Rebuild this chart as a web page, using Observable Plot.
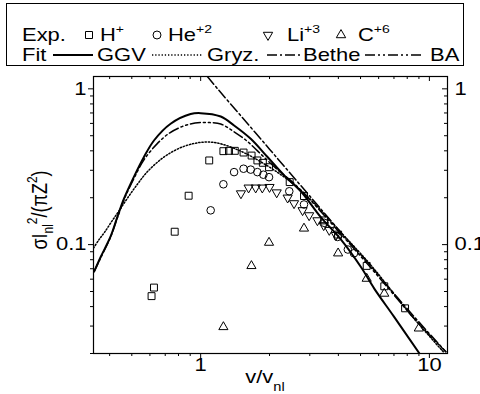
<!DOCTYPE html>
<html><head><meta charset="utf-8">
<script src="https://cdn.jsdelivr.net/npm/d3@7"></script>
<script src="https://cdn.jsdelivr.net/npm/@observablehq/plot@0.6"></script>
<style>
body{margin:0;background:#fff;width:480px;height:394px;overflow:hidden;font-family:"Liberation Sans",Arial,sans-serif;}
svg{display:block}
</style></head><body>
<svg id="legend" width="480" height="68"></svg>
<div id="chart"></div>
<script>
// ---- data ----
const ggvX = [0.343,0.365,0.403,0.432,0.462,0.51,0.565,0.625,0.739,0.904,1.0,1.224,1.40,1.655,1.96,2.32,2.74,3.35,4.10,5.02,5.75,7.0,9.05];
const ggvY = [0.0675,0.083,0.112,0.150,0.197,0.271,0.365,0.466,0.597,0.689,0.698,0.664,0.582,0.478,0.365,0.278,0.22,0.150,0.108,0.0718,0.052,0.0345,0.020];

const gryzX = [0.34,0.36,0.38,0.41,0.44,0.48,0.53,0.58,0.65,0.72,0.82,0.93,1.03,1.15,1.25,1.4,1.6,1.8,2.1,2.5,3.0,4.1,5.5,6.8,8.5,11.5];
const gryzY = [0.095,0.108,0.120,0.142,0.165,0.200,0.245,0.29,0.34,0.38,0.42,0.445,0.455,0.452,0.44,0.415,0.38,0.345,0.30,0.25,0.197,0.12,0.075,0.051,0.034,0.0205];

const betheX = [1.07,1.2,1.5,2.0,2.5,3.0,4.1,5.5,6.8,8.5,11.8];
const betheY = [1.2,0.98,0.67,0.41,0.28,0.205,0.12,0.074,0.051,0.035,0.0205];

const baX = [0.34,0.365,0.403,0.432,0.462,0.51,0.565,0.646,0.73,0.817,0.9,1.0,1.1,1.224,1.4,1.6,1.89,2.24,2.5,3.0,4.1,5.5,6.8,8.5,11.8];
const baY = [0.066,0.082,0.111,0.148,0.194,0.265,0.35,0.445,0.52,0.567,0.595,0.608,0.607,0.595,0.53,0.46,0.365,0.29,0.255,0.195,0.117,0.072,0.05,0.034,0.0205];

const hX = [0.61,0.625,0.77,0.886,1.09,1.257,1.33,1.41,1.54,1.67,1.77,1.87,1.99,2.45,2.83,3.47,3.99,5.32,6.35,7.83];
const hY = [0.0467,0.053,0.121,0.206,0.347,0.398,0.40,0.40,0.39,0.373,0.347,0.335,0.314,0.252,0.205,0.143,0.116,0.073,0.054,0.039];

const heX = [1.106,1.257,1.40,1.54,1.655,1.77,1.88,1.99,2.44,2.83,3.47,3.97,4.40,4.68];
const heY = [0.166,0.244,0.292,0.307,0.303,0.292,0.281,0.271,0.22,0.181,0.138,0.112,0.093,0.088];

const liX = [1.50,1.62,1.74,1.86,2.0,2.15,2.40,2.56,2.79,2.98,3.24,3.45,3.65,3.90];
const liY = [0.213,0.232,0.232,0.232,0.234,0.216,0.200,0.184,0.166,0.154,0.143,0.133,0.124,0.115];

const cX = [1.257,1.667,1.99,2.83,3.99,5.32,6.35,8.99];
const cY = [0.0296,0.073,0.103,0.127,0.088,0.0605,0.0485,0.029];

const xMajorTicks = [1, 10];
const xTickLabels = ["1", "10"];
const xMinorTicks = [0.4,0.5,0.6,0.7,0.8,0.9,2,3,4,5,6,7,8,9];
const yMajorTicks = [0.1, 1];
const yTickLabels = ["0.1", "1"];
const yMinorTicks = [0.02,0.03,0.04,0.05,0.06,0.07,0.08,0.09,0.2,0.3,0.4,0.5,0.6,0.7,0.8,0.9];

const expLabels = ["H", "He", "Li", "C"];
const expCharges = ["+", "+2", "+3", "+6"];
const fitLabel = "Fit", expLabel = "Exp.";
const fitLabels = ["GGV", "Gryz.", "Bethe", "BA"];

// ---- helpers ----
const SX = 1.22; // horizontal stretch of the original rendering
const toRows = (xs, ys) => xs.map((x, i) => ({x, y: ys[i]}));
const triDown = {draw(ctx, size) {
  const y = -Math.sqrt(size / (Math.sqrt(3) * 3));
  ctx.moveTo(0, -y * 2); ctx.lineTo(-Math.sqrt(3) * y, y); ctx.lineTo(Math.sqrt(3) * y, y); ctx.closePath();
}};
const fmtX = d => xTickLabels[xMajorTicks.indexOf(d)];
const fmtY = d => yTickLabels[yMajorTicks.indexOf(d)];
const blank = () => "";

const W = 480, H = 326, ML = 93, MR = 33, MT = 8, MB = 41;
const FW = W - ML - MR, FH = H - MT - MB;

const lineStyles = [
  {data: toRows(ggvX, ggvY), strokeWidth: 2, dash: null},
  {data: toRows(gryzX, gryzY), strokeWidth: 1.5, dash: "1.3,1.9"},
  {data: toRows(betheX, betheY), strokeWidth: 1.5, dash: "10,3,2,3"},
  {data: toRows(baX, baY), strokeWidth: 1.5, dash: "10,3,2,3,2,3"}
];
const symbols = ["square", "circle", triDown, "triangle"];
const symR = [3.9, 3.8, 3.4, 3.4];
const expData = [toRows(hX, hY), toRows(heX, heY), toRows(liX, liY), toRows(cX, cY)];

const plot = Plot.plot({
  width: W, height: H,
  marginLeft: ML, marginRight: MR, marginTop: MT, marginBottom: MB,
  x: {type: "log", domain: [0.34, 12]},
  y: {type: "log", domain: [0.02, 1.2]},
  style: {fontFamily: "'Liberation Sans', Arial, sans-serif", fontSize: "18px", color: "black", background: "white", overflow: "visible"},
  marks: [
    ...lineStyles.map(s => Plot.line(s.data, {x: "x", y: "y", curve: "catmull-rom", stroke: "black", strokeWidth: s.strokeWidth, strokeDasharray: s.dash, clip: true})),
    ...expData.map((d, i) => Plot.dot(d, {x: "x", y: "y", symbol: symbols[i], r: symR[i], stroke: "black", strokeWidth: 1, fill: "none"})),
    Plot.frame({stroke: "black", strokeWidth: 1.2}),
    Plot.axisX(xMajorTicks, {anchor: "bottom", tickSize: 5, tickPadding: 0, tickFormat: fmtX, fontSize: 18, label: null}),
    Plot.axisX(xMinorTicks, {anchor: "bottom", tickSize: 3, tickFormat: blank, label: null}),
    Plot.tickX(xMajorTicks, {x: d => d, insetBottom: FH - 5, stroke: "black"}),
    Plot.tickX(xMinorTicks, {x: d => d, insetBottom: FH - 3, stroke: "black"}),
    Plot.axisY(yMajorTicks, {anchor: "left", tickSize: 5, tickPadding: 2, tickFormat: fmtY, fontSize: 18, label: null}),
    Plot.axisY(yMinorTicks, {anchor: "left", tickSize: 3, tickFormat: blank, label: null}),
    Plot.tickY(yMajorTicks, {y: d => d, insetLeft: FW - 5, stroke: "black"}),
    Plot.tickY(yMinorTicks, {y: d => d, insetLeft: FW - 3, stroke: "black"}),
    Plot.axisY(yMajorTicks, {anchor: "right", tickSize: 0, tickPadding: 7, tickFormat: fmtY, fontSize: 18, label: null})
  ]
});
document.getElementById("chart").appendChild(plot);

const svg = d3.select(plot);
svg.selectAll('g[aria-label$="tick label"] text').each(function() {
  const w = this.getComputedTextLength();
  if (w > 0) { this.setAttribute("textLength", w * SX); this.setAttribute("lengthAdjust", "spacingAndGlyphs"); }
});

// axis titles
const font = "'Liberation Sans', Arial, sans-serif";
const xl = svg.append("g").attr("transform", `translate(265,315) scale(${SX},1)`)
  .append("text").attr("text-anchor", "middle").attr("font-family", font).attr("font-size", 18).attr("fill", "black");
xl.append("tspan").text("v/v");
xl.append("tspan").attr("dy", 8).attr("font-size", 12).text("nl");

const yl = svg.append("g").attr("transform", `translate(47,142) rotate(-90) scale(1,${SX})`)
  .append("text").attr("text-anchor", "middle").attr("font-family", font).attr("font-size", 18).attr("fill", "black");
yl.append("tspan").text("σI");
yl.append("tspan").attr("dy", 5).attr("font-size", 12).text("nl");
yl.append("tspan").attr("dy", -13).attr("font-size", 12).text("2");
yl.append("tspan").attr("dy", 8).text("/(πZ");
yl.append("tspan").attr("dy", -8).attr("font-size", 12).text("2");
yl.append("tspan").attr("dy", 8).text(")");

// ---- legend ----
const lg = d3.select("#legend");
lg.append("rect").attr("x", 6.5).attr("y", 3.5).attr("width", 457).attr("height", 62).attr("fill", "white").attr("stroke", "black").attr("stroke-width", 1);
function ltext(x, y, parts) {
  const t = lg.append("g").attr("transform", `translate(${x},${y}) scale(${SX},1)`)
    .append("text").attr("font-family", font).attr("font-size", 18).attr("fill", "black");
  parts.forEach(p => {
    const s = t.append("tspan").text(p.t);
    if (p.sup) s.attr("font-size", 11.5).attr("dy", -8);
  });
}
const row1 = 41, row2 = 61;
ltext(22, row1, [{t: expLabel}]);
const symX = [89, 157, 268, 341];
const txtX = [100, 168, 287, 358];
const legendSymSize = [49, 50, 38, 38];
[d3.symbolSquare, d3.symbolCircle, triDown, d3.symbolTriangle].forEach((sym, i) => {
  lg.append("path").attr("d", d3.symbol(sym, legendSymSize[i])())
    .attr("transform", `translate(${symX[i]},${row1 - 6})`)
    .attr("fill", "none").attr("stroke", "black").attr("stroke-width", 1);
  ltext(txtX[i], row1, [{t: expLabels[i]}, {t: expCharges[i], sup: true}]);
});
ltext(22, row2, [{t: fitLabel}]);
const segX = [[53, 93], [152, 202], [267, 300], [365, 423]];
const labX = [97, 207, 303, 430];
lineStyles.forEach((s, i) => {
  lg.append("line").attr("x1", segX[i][0]).attr("x2", segX[i][1]).attr("y1", row2 - 6).attr("y2", row2 - 6)
    .attr("stroke", "black").attr("stroke-width", s.strokeWidth).attr("stroke-dasharray", s.dash);
  ltext(labX[i], row2, [{t: fitLabels[i]}]);
});
</script></body></html>
